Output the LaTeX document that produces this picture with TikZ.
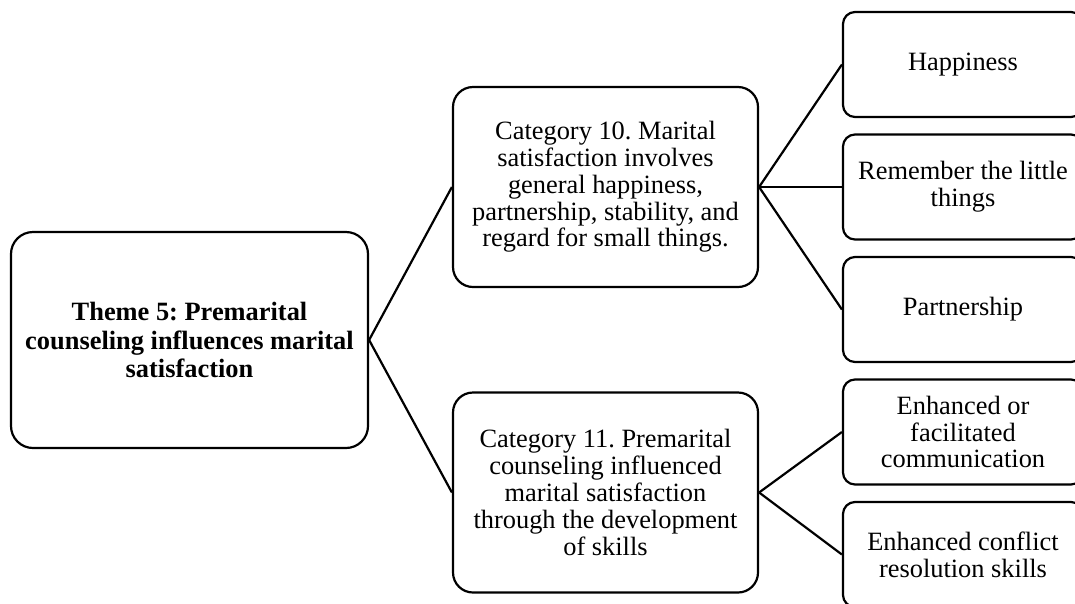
\documentclass[tikz,border=0pt]{standalone}
\usepackage{fontspec}
\setmainfont{Liberation Serif}
\tikzset{
  box/.style={draw=black, line width=2.2pt, rectangle, align=center, inner sep=2pt,
    font=\fontsize{26.4}{26.8}\selectfont\frenchspacing},
  themebox/.style={box, rounded corners=22pt, minimum width=357pt, minimum height=216pt,
    font=\fontsize{26.4}{28.2}\selectfont\frenchspacing\bfseries},
  catbox/.style={box, rounded corners=20pt, minimum width=305pt, minimum height=200pt},
  leafbox/.style={box, rounded corners=12pt, minimum width=240pt, minimum height=105pt},
  link/.style={draw=black, line width=2.2pt}
}
\begin{document}
\begin{tikzpicture}[x=1pt,y=-1pt]
\useasboundingbox (0,0) rectangle (1075,603);
\clip (0,0) rectangle (1075,603);
\node[themebox] (theme) at (189.5,340) {Theme 5: Premarital\\counseling influences marital\\satisfaction};
\node[catbox] (c10) at (605.5,187) {Category 10. Marital\\satisfaction involves\\general happiness,\\partnership, stability, and\\regard for small things.};
\node[catbox] (c11) at (605.5,492.5) {Category 11. Premarital\\counseling influenced\\marital satisfaction\\through the development\\of skills};
\node[leafbox] (h) at (963,64.5) {Happiness};
\node[leafbox] (r) at (963,187) {Remember the little\\things};
\node[leafbox] (p) at (963,309.5) {Partnership};
\node[leafbox] (e) at (963,432) {Enhanced or\\facilitated\\communication};
\node[leafbox] (k) at (963,554.5) {Enhanced conflict\\resolution skills};
\draw[link] (theme.east) -- (c10.west);
\draw[link] (theme.east) -- (c11.west);
\draw[link] (c10.east) -- (h.west);
\draw[link] (c10.east) -- (r.west);
\draw[link] (c10.east) -- (p.west);
\draw[link] (c11.east) -- (e.west);
\draw[link] (c11.east) -- (k.west);
\end{tikzpicture}
\end{document}
